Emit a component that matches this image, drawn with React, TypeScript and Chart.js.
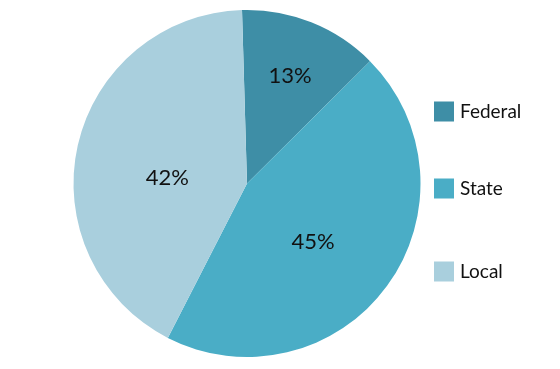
import React, { useEffect, useRef } from "react";
import { Chart, registerables } from "chart.js";

Chart.register(...registerables);

const categories = ["Federal", "State", "Local"];
const shares = [13, 45, 42];
const colors = ["#3e8ea6", "#4aadc6", "#a9cfdd"];
// label placement tweaks (fraction of radius, angle offset in degrees)
const labelRadius = [0.67, 0.51, 0.46];
const labelAngleOffset = [0, 5.5, -8.5];
// legend row offsets from the chart's vertical centre
const legendRowOffset = [-72, 5, 88];

const FONT = "Lato, 'Open Sans', sans-serif";

const labelsPlugin = {
  id: "sliceLabels",
  afterDatasetsDraw(chart: any) {
    const ctx = chart.ctx;
    const meta = chart.getDatasetMeta(0);
    ctx.save();
    ctx.fillStyle = "#111";
    ctx.font = `22px ${FONT}`;
    ctx.textAlign = "center";
    ctx.textBaseline = "middle";
    meta.data.forEach((arc: any, i: number) => {
      const { x, y, startAngle, endAngle, outerRadius } = arc.getProps(
        ["x", "y", "startAngle", "endAngle", "outerRadius"],
        true
      );
      const mid = (startAngle + endAngle) / 2 + (labelAngleOffset[i] * Math.PI) / 180;
      const r = outerRadius * labelRadius[i];
      ctx.fillText(`${shares[i]}%`, x + Math.cos(mid) * r, y + Math.sin(mid) * r);
    });
    ctx.restore();
  },
};

const legendPlugin = {
  id: "sideLegend",
  afterDraw(chart: any) {
    const ctx = chart.ctx;
    const area = chart.chartArea;
    const x0 = area.right + 13;
    const yMid = (area.top + area.bottom) / 2;
    ctx.save();
    ctx.font = `19px ${FONT}`;
    ctx.textBaseline = "middle";
    ctx.textAlign = "left";
    categories.forEach((c, i) => {
      const cy = yMid + legendRowOffset[i];
      ctx.fillStyle = colors[i];
      ctx.fillRect(x0, cy - 10, 20, 20);
      ctx.fillStyle = "#111";
      ctx.fillText(c, x0 + 26, cy);
    });
    ctx.restore();
  },
};

export default function App() {
  const ref = useRef<HTMLCanvasElement>(null);
  useEffect(() => {
    if (!ref.current) return;
    const chart = new Chart(ref.current, {
      type: "pie",
      data: {
        labels: categories,
        datasets: [
          {
            data: shares,
            backgroundColor: colors,
            borderWidth: 0,
          },
        ],
      },
      options: {
        animation: false,
        responsive: false,
        rotation: -1.65,
        layout: { padding: { left: 73, right: 139, top: 10, bottom: 12 } },
        plugins: {
          legend: { display: false },
          tooltip: { enabled: false },
        },
      },
      plugins: [labelsPlugin, legendPlugin],
    });
    return () => chart.destroy();
  }, []);
  return (
    <div style={{ position: "fixed", left: 0, top: 0, width: 560, height: 369, background: "#fff" }}>
      <canvas ref={ref} width={560} height={369} />
    </div>
  );
}
